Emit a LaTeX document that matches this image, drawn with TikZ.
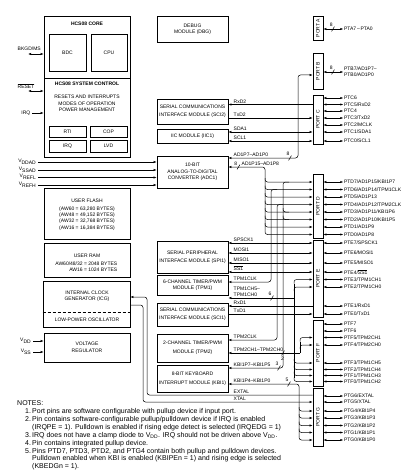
\documentclass[tikz,border=0pt]{standalone}
\usepackage{fontspec}
\setmainfont{Liberation Sans}
\usetikzlibrary{arrows.meta}
\newcommand{\lblfont}{\fontsize{5}{6.3}\selectfont}
\newcommand{\notefont}{\fontsize{7}{8}\selectfont}
\tikzset{
  ln/.style={line width=0.5pt},
  arr/.style={ln,-{Latex[length=3pt,width=2.2pt]}},
  rarr/.style={ln,{Latex[length=3pt,width=2.2pt]}-},
  darr/.style={ln,{Latex[length=3pt,width=2.2pt]}-{Latex[length=3pt,width=2.2pt]}},
  boxst/.style={draw,line width=0.6pt,inner sep=0pt,align=center,font=\lblfont},
  lbl/.style={inner sep=0.5pt,font=\lblfont},
  sig/.style={lbl,anchor=south west},
  notelbl/.style={inner sep=0pt,font=\notefont,anchor=west},
}
\newcommand{\mkbox}[6]{\node[boxst,minimum width={(#4-#2)*1pt},minimum height={(#5-#3)*1pt}] (#1) at ({(#2+#4)/2},{(#3+#5)/2}) {#6};}
\newcommand{\mypin}[4]{\draw[darr] (#1.east |- 0,#2) -- ++(20,0) node[lbl,anchor=west] (#4) {#3};}
\newcommand{\busmark}[6]{\draw[ln] (#1-1.4,#2+2.4) -- (#1+1.4,#2-2.4); \node[lbl] (#6) at (#3,#4) {#5};}
\newcommand{\ovl}[1]{$\overline{\mbox{#1}}$}
\begin{document}
\begin{tikzpicture}[x=1pt,y=-1pt]
\fill[white] (0,0) rectangle (419,476);
\useasboundingbox (0,0) rectangle (419,476);

% ---------- left column ----------
\mkbox{core}{44}{16}{130}{78}{}
\node[lbl,font=\lblfont\bfseries] (coreT) at (87,24) {HCS08 CORE};
\mkbox{bdc}{49}{34}{86}{71}{BDC}
\mkbox{cpu}{91}{34}{127}{71}{CPU}
\mkbox{sys}{44}{78}{130}{157}{}
\node[lbl,font=\lblfont\bfseries] (sysT) at (87,84) {HCS08 SYSTEM CONTROL};
\node[lbl,align=center] (sysX) at (87,103.5) {RESETS AND INTERRUPTS\\MODES OF OPERATION\\POWER MANAGEMENT};
\mkbox{rti}{49}{126}{86}{137}{RTI}
\mkbox{cop}{90}{126}{127}{137}{COP}
\mkbox{irqb}{49}{140}{86}{152}{IRQ}
\mkbox{lvd}{90}{140}{127}{152}{LVD}
\mkbox{flash}{44}{188}{130}{239}{}
\node[lbl,align=center] (flashT) at (87,214.5) {USER FLASH\\[1.5pt](AW60 = 63,280 BYTES)\\(AW48 = 49,152 BYTES)\\(AW32 = 32,768 BYTES)\\(AW16 = 16,384 BYTES)};
\mkbox{ram}{44}{243}{130}{277}{}
\node[lbl] (ramT) at (87,256) {USER RAM};
\node[lbl,align=right,anchor=east] (ramX) at (118,267) {AW60/48/32 = 2048 BYTES\\AW16 = 1024 BYTES};
\mkbox{icg}{43}{281}{130}{327}{}
\node[lbl,align=center] (icgT) at (87,296.5) {INTERNAL CLOCK\\GENERATOR (ICG)};
\draw[ln,dash pattern=on 3pt off 2pt] (icg.west |- 0,312) -- (icg.east |- 0,312);
\node[lbl] (icgL) at (87,319.5) {LOW-POWER OSCILLATOR};
\mkbox{vreg}{44}{333}{130}{362}{VOLTAGE\\[1pt]REGULATOR}

% left pins
\node[lbl,anchor=west] (bkgdL) at (17,49) {BKGD/MS};
\draw[darr] (28,54) -- (core.west |- 0,54);
\node[lbl,anchor=west] (rstL) at (17,86) {\ovl{RESET}};
\draw[darr] (28,91) -- (sys.west |- 0,91);
\node[lbl,anchor=east] (irqL) at (31,113) {IRQ};
\draw[arr] (32,113) -- (sys.west |- 0,113);
\node[lbl,anchor=east] (vddL) at (32,341) {V\textsubscript{DD}};
\draw[arr] (33,341) -- (vreg.west |- 0,341);
\node[lbl,anchor=east] (vssL) at (32,352) {V\textsubscript{SS}};
\draw[arr] (33,352) -- (vreg.west |- 0,352);

% ---------- middle column ----------
\mkbox{dbg}{157}{16}{228}{42}{DEBUG\\MODULE (DBG)}
\mkbox{sci2}{157}{99}{228}{124}{SERIAL COMMUNICATIONS\\[1.5pt]INTERFACE MODULE (SCI2)}
\mkbox{iic}{157}{129}{228}{143}{IIC MODULE (IIC1)}
\mkbox{adc}{157}{156}{228}{188}{10-BIT\\ANALOG-TO-DIGITAL\\CONVERTER (ADC1)}
\mkbox{spi}{157}{241}{228}{273}{SERIAL PERIPHERAL\\[1.5pt]INTERFACE MODULE (SPI1)}
\mkbox{tpm1}{157}{275}{228}{295}{6-CHANNEL TIMER/PWM\\MODULE (TPM1)}
\mkbox{sci1}{157}{303}{228}{326}{SERIAL COMMUNICATIONS\\[1.5pt]INTERFACE MODULE (SCI1)}
\mkbox{tpm2}{157}{334}{228}{362}{2-CHANNEL TIMER/PWM\\[3pt]MODULE (TPM2)}
\mkbox{kbi}{157}{365}{228}{392}{8-BIT KEYBOARD\\[3pt]INTERRUPT MODULE (KBI1)}

% ADC analog inputs
\node[lbl,anchor=east] (vddadL) at (37,161.5) {V\textsubscript{DDAD}};
\draw[arr] (38,162) -- (adc.west |- 0,162);
\node[lbl,anchor=east] (vssadL) at (37,169.5) {V\textsubscript{SSAD}};
\draw[arr] (38,170) -- (adc.west |- 0,170);
\node[lbl,anchor=east] (vreflL) at (37,177) {V\textsubscript{REFL}};
\draw[arr] (38,177.5) -- (adc.west |- 0,177.5);
\node[lbl,anchor=east] (vrefhL) at (37,184.5) {V\textsubscript{REFH}};
\draw[arr] (38,185) -- (adc.west |- 0,185);

% ---------- ports ----------
\mkbox{pA}{313}{16}{323}{40}{}
\node[lbl,rotate=90] (pAt) at (pA) {PORT A};
\mkbox{pB}{313}{53}{323}{89}{}
\node[lbl,rotate=90] (pBt) at (pB) {PORT B};
\mkbox{pC}{313}{95}{323}{144}{}
\node[lbl,rotate=90] (pCt) at (pC) {PORT C};
\mkbox{pD}{313}{174}{323}{238}{}
\node[lbl,rotate=90] (pDt) at (pD) {PORT D};
\mkbox{pE}{313}{240}{323}{317}{}
\node[lbl,rotate=90] (pEt) at (pE) {PORT E};
\mkbox{pF}{313}{320}{323}{386}{}
\node[lbl,rotate=90] (pFt) at (pF) {PORT F};
\mkbox{pG}{313}{388}{323}{446}{}
\node[lbl,rotate=90] (pGt) at (pG) {PORT G};

% port A / B
\draw[darr] (pA.east |- 0,29) -- ++(20,0) node[lbl,anchor=west] (pa0) {PTA7\,--\,PTA0};
\busmark{333}{29}{331.3}{24.5}{8}{bmA}
\draw[darr] (pB.east |- 0,72) -- ++(20,0) node[lbl,anchor=west,align=left] (pb0) {PTB7/AD1P7--\\PTB0/AD1P0};
\busmark{333}{72}{331.3}{67.5}{8}{bmB}

% port C pins
\mypin{pC}{98}{PTC6}{pc6}
\mypin{pC}{104.5}{PTC5/RxD2}{pc5}
\mypin{pC}{111}{PTC4}{pc4}
\mypin{pC}{118}{PTC3/TxD2}{pc3}
\mypin{pC}{125}{PTC2/MCLK}{pc2}
\mypin{pC}{132}{PTC1/SDA1}{pc1}
\mypin{pC}{141}{PTC0/SCL1}{pc0}

% port D pins
\mypin{pD}{182}{PTD7/AD1P15/KBI1P7}{pd7}
\mypin{pD}{189.5}{PTD6/AD1P14/TPM1CLK}{pd6}
\mypin{pD}{197}{PTD5/AD1P13}{pd5}
\mypin{pD}{204.5}{PTD4/AD1P12/TPM2CLK}{pd4}
\mypin{pD}{212}{PTD3/AD1P11/KBI1P6}{pd3}
\mypin{pD}{219.5}{PTD2/AD1P10/KBI1P5}{pd2}
\mypin{pD}{227}{PTD1/AD1P9}{pd1}
\mypin{pD}{234.5}{PTD0/AD1P8}{pd0}

% port E pins
\mypin{pE}{243}{PTE7/SPSCK1}{pe7}
\mypin{pE}{253}{PTE6/MOSI1}{pe6}
\mypin{pE}{263}{PTE5/MISO1}{pe5}
\mypin{pE}{272}{PTE4/\ovl{SS1}}{pe4}
\mypin{pE}{279.5}{PTE3/TPM1CH1}{pe3}
\mypin{pE}{287}{PTE2/TPM1CH0}{pe2}
\mypin{pE}{306}{PTE1/RxD1}{pe1}
\mypin{pE}{314}{PTE0/TxD1}{pe0}

% port F pins
\mypin{pF}{324}{PTF7}{pf7}
\mypin{pF}{331}{PTF6}{pf6}
\mypin{pF}{337.5}{PTF5/TPM2CH1}{pf5}
\mypin{pF}{345}{PTF4/TPM2CH0}{pf4}
\mypin{pF}{363}{PTF3/TPM1CH5}{pf3}
\mypin{pF}{369.5}{PTF2/TPM1CH4}{pf2}
\mypin{pF}{375.5}{PTF1/TPM1CH3}{pf1}
\mypin{pF}{381.5}{PTF0/TPM1CH2}{pf0}

% port G pins
\mypin{pG}{396}{PTG6/EXTAL}{pg6}
\mypin{pG}{402}{PTG5/XTAL}{pg5}
\mypin{pG}{411}{PTG4/KBI1P4}{pg4}
\mypin{pG}{418}{PTG3/KBI1P3}{pg3}
\mypin{pG}{425.5}{PTG2/KBI1P2}{pg2}
\mypin{pG}{432.5}{PTG1/KBI1P1}{pg1}
\mypin{pG}{440}{PTG0/KBI1P0}{pg0}

% ---------- internal connections ----------
% SCI2 and IIC to port C
\draw[rarr] (sci2.east |- 0,104.5) -- (pC.west |- 0,104.5);
\node[sig] (rxd2) at (233,104) {RxD2};
\draw[arr] (sci2.east |- 0,118) -- (pC.west |- 0,118);
\node[sig] (txd2) at (233,117.5) {TxD2};
\draw[darr] (iic.east |- 0,132) -- (pC.west |- 0,132);
\node[sig] (sda1) at (233,131.5) {SDA1};
\draw[darr] (iic.east |- 0,141) -- (pC.west |- 0,141);
\node[sig] (scl1) at (233,140.5) {SCL1};

% ADC to port B
\draw[darr,rounded corners=2.5pt] (adc.east |- 0,158) -- (298,158) -- (298,75) -- (pB.west |- 0,75);
\node[sig] (ad7) at (233,157.5) {AD1P7--AD1P0};
\busmark{290}{158}{288}{153.5}{8}{bmAD7}

% ADC to port D bus
\draw[rarr,rounded corners=2.5pt] (adc.east |- 0,167) -- (265,167) -- (265,230.5);
\node[sig] (ad15) at (241,166.5) {AD1P15--AD1P8};
\busmark{238.5}{167}{235.8}{164}{8}{bmAD15}
\foreach \yy in {182,189.5,197,204.5,212,219.5,227,234.5}
  \draw[arr,rounded corners=2.5pt] (265,\yy-4) |- (pD.west |- 0,\yy);

% TPM1CLK, TPM2CLK, KBI1P7-KBI1P5 taps of port D
\draw[rarr,rounded corners=2.5pt] (tpm1.east |- 0,282) -- (271,282) -- (271,189.5) -- (277,189.5);
\node[sig] (tpm1clk) at (233,281.5) {TPM1CLK};
\draw[rarr,rounded corners=2.5pt] (tpm2.east |- 0,340) -- (277,340) -- (277,204.5) -- (283,204.5);
\node[sig] (tpm2clk) at (233,339.5) {TPM2CLK};
\draw[rarr,rounded corners=2.5pt] (kbi.east |- 0,368) -- (283,368) -- (283,182) -- (289,182);
\draw[ln,rounded corners=2.5pt] (283,208) |- (289,212);
\draw[ln,rounded corners=2.5pt] (283,215.5) |- (289,219.5);
\node[sig] (kbi75) at (233,367.5) {KBI1P7--KBI1P5};
\busmark{279}{368}{277}{363.5}{3}{bmK3}

% SPI to port E
\draw[darr] (spi.east |- 0,243) -- (pE.west |- 0,243);
\node[sig] (spsck) at (233,242.5) {SPSCK1};
\draw[darr] (spi.east |- 0,253) -- (pE.west |- 0,253);
\node[sig] (mosi) at (233,252.5) {MOSI1};
\draw[darr] (spi.east |- 0,263) -- (pE.west |- 0,263);
\node[sig] (miso) at (233,262.5) {MISO1};
\draw[darr] (spi.east |- 0,272) -- (pE.west |- 0,272);
\node[sig] (ss) at (233,271.5) {\ovl{SS1}};

% TPM1 channels to ports E and F
\draw[rarr] (tpm1.east |- 0,298) -- (294,298);
\node[sig,align=left] (tpm1ch) at (233,297.5) {TPM1CH5--\\TPM1CH0};
\busmark{272}{298}{270}{293.5}{6}{bmT6}
\draw[ln] (294,283.5) -- (294,377.5);
\draw[arr,rounded corners=2.5pt] (294,283.5) |- (pE.west |- 0,279.5);
\draw[arr,rounded corners=2.5pt] (294,291) |- (pE.west |- 0,287);
\foreach \yy in {363,369.5,375.5,381.5}
  \draw[arr,rounded corners=2.5pt] (294,\yy-4) |- (pF.west |- 0,\yy);

% SCI1 to port E
\draw[rarr] (sci1.east |- 0,306) -- (pE.west |- 0,306);
\node[sig] (rxd1) at (233,305.5) {RxD1};
\draw[arr] (sci1.east |- 0,314) -- (pE.west |- 0,314);
\node[sig] (txd1) at (233,313.5) {TxD1};

% TPM2 channels to port F
\draw[darr,{Latex[length=3pt,width=2.2pt]}-] (tpm2.east |- 0,353) -- (300,353);
\draw[ln] (300,341.5) -- (300,353);
\draw[arr,rounded corners=2.5pt] (300,341.5) |- (pF.west |- 0,337.5);
\draw[arr,rounded corners=2.5pt] (300,349) |- (pF.west |- 0,345);
\node[sig] (tpm2ch) at (233,352.5) {TPM2CH1--TPM2CH0};
\busmark{283}{353}{282.5}{358.8}{2}{bmT2}

% KBI1P4-KBI1P0 to port G
\draw[rarr,rounded corners=2.5pt] (kbi.east |- 0,384) -- (299,384) -- (299,436);
\foreach \yy in {411,418,425.5,432.5,440}
  \draw[arr,rounded corners=2.5pt] (299,\yy-4) |- (pG.west |- 0,\yy);
\node[sig] (kbi40) at (233,383.5) {KBI1P4--KBI1P0};
\busmark{289}{384}{287}{379.5}{5}{bmK5}

% ICG oscillator to port G
\draw[rarr,rounded corners=2.5pt] (icg.east |- 0,297) -- (147,297) -- (147,395) -- (pG.west |- 0,395);
\node[sig] (extal) at (233,394.5) {EXTAL};
\draw[arr,rounded corners=2.5pt] (icg.east |- 0,305) -- (143,305) -- (143,402) -- (pG.west |- 0,402);
\node[sig] (xtal) at (233,401.5) {XTAL};

% ---------- notes ----------
\node[notelbl] (n0) at (17,403) {NOTES:};
\node[notelbl] (n1) at (25,411.5) {\makebox[7pt][l]{1.}Port pins are software configurable with pullup device if input port.};
\node[notelbl] (n2) at (25,419.5) {\makebox[7pt][l]{2.}Pin contains software-configurable pullup/pulldown device if IRQ is enabled};
\node[notelbl] (n2b) at (32,427.5) {(IRQPE = 1). Pulldown is enabled if rising edge detect is selected (IRQEDG = 1)};
\node[notelbl] (n3) at (25,435.5) {\makebox[7pt][l]{3.}IRQ does not have a clamp diode to V\textsubscript{DD}. IRQ should not be driven above V\textsubscript{DD}.};
\node[notelbl] (n4) at (25,443.5) {\makebox[7pt][l]{4.}Pin contains integrated pullup device.};
\node[notelbl] (n5) at (25,451.5) {\makebox[7pt][l]{5.}Pins PTD7, PTD3, PTD2, and PTG4 contain both pullup and pulldown devices.};
\node[notelbl] (n5b) at (32,459) {Pulldown enabled when KBI is enabled (KBIPEn = 1) and rising edge is selected};
\node[notelbl] (n5c) at (32,467) {(KBEDGn = 1).};
\end{tikzpicture}
\end{document}
